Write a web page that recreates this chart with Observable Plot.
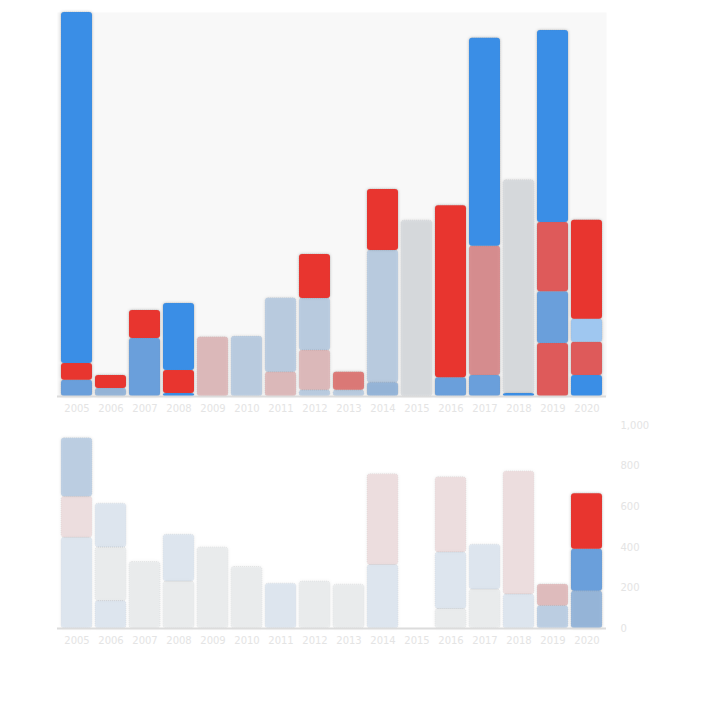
<!DOCTYPE html>
<html>
<head>
<meta charset="utf-8">
<script src="https://cdn.jsdelivr.net/npm/d3@7"></script>
<script src="https://cdn.jsdelivr.net/npm/@observablehq/plot@0.6"></script>
<style>
  html, body { margin: 0; padding: 0; background: #ffffff; }
  #chart svg { display: block; font-family: "DejaVu Sans", sans-serif; }
  #chart g[aria-label="bar"] { filter: drop-shadow(0 0 1.5px rgba(0,0,0,0.25)); }
</style>
</head>
<body>
<div id="chart"></div>
<script>
// Categories (x axis)
const categories = ["2005","2006","2007","2008","2009","2010","2011","2012",
                    "2013","2014","2015","2016","2017","2018","2019","2020"];

// Top panel: segments listed bottom-to-top within each bar
const topBar    = [1,1,1, 2,2, 3,3, 4,4,4, 5, 6, 7,7, 8,8,8,8, 9,9, 10,10,10, 11, 12,12, 13,13,13, 14,14, 15,15,15,15, 16,16,16,16];
const topSeries = ["D2","R","D", "D2","R", "D2","R", "D","R","D", "R", "D", "R","D", "D","R","D","R", "D","R", "D2","D","R", "G", "D2","R", "D2","R2","D", "D","G", "R2","D2","R2","D", "D","R2","D3","R"];
const topValue  = [42,44,914, 21,34, 151,73, 8,60,174, 154, 156, 63,193, 16,104,135,115, 16,47, 36,344,159, 458, 49,448, 55,336,542, 8,555, 138,135,180,500, 55,86,60,258];
const topState  = ["on","on","on", "dim","on", "on","on", "on","on","on", "off", "off", "off","off", "off","off","off","on", "off","dim", "dim","off","on", "off", "on","on", "on","dim","on", "on","off", "on","on","on","on", "on","on","on","on"];

// Bottom panel
const botBar    = [1,1,1, 2,2,2, 3, 4,4, 5, 6, 7, 8, 9, 10,10, 12,12,12, 13,13, 14,14, 15,15, 16,16,16];
const botSeries = ["D","R","D", "D","G","D", "G", "G","D", "G", "G", "D", "G", "G", "D","R", "G","D","R", "G","D", "D","R", "D","R", "D2","D2","R"];
const botValue  = [447,202,288, 135,264,216, 327, 231,231, 399, 303, 221, 231, 216, 313,447, 96,279,370, 192,221, 168,606, 111,106, 183,207,274];
const botState  = ["ghost","ghost","off", "ghost","ghost","ghost", "ghost", "ghost","ghost", "ghost", "ghost", "ghost", "ghost", "ghost", "ghost","ghost", "ghost","ghost","ghost", "ghost","ghost", "ghost","ghost", "off","off", "dim","on","on"];

const rightTicks = [0, 200, 400, 600, 800, 1000];

// styling (kept out of the data)
const palette = {D: "#3a8ee6", D2: "#6a9fdb", D3: "#9fc7f0", R: "#e8352f", R2: "#de5a5a", G: "#c8cfd6"};
const fade  = {on: 0, dim: 0.3, off: 0.55, ghost: 0.6};
const alpha = {on: 1, dim: 0.8, off: 0.45, ghost: 0.22};

function build(bars, series, values, states) {
  return bars.map((b, i) => ({
    cat: categories[b - 1], series: series[i], value: values[i], state: states[i]
  }));
}
const topData = build(topBar, topSeries, topValue, topState);
const botData = build(botBar, botSeries, botValue, botState);

const fillOf = d => d.state === "on" ? palette[d.series]
  : d3.interpolateRgb(palette[d.series], "#c9d0d7")(fade[d.state]);

function panel(data, opts) {
  return Plot.plot({
    width: 713,
    height: opts.height,
    marginLeft: 57,
    marginRight: 107,
    marginTop: opts.marginTop,
    marginBottom: opts.marginBottom,
    style: {color: "#e4e4e4", fontSize: "10px", background: "transparent"},
    x: {domain: categories, padding: 0.09, tickSize: 0, label: null, tickPadding: 8},
    y: {domain: [0, 1000], axis: opts.yAxis, ticks: rightTicks, tickSize: 0, label: null, tickPadding: 14},
    opacity: {type: "ordinal", domain: ["ghost", "off", "dim", "on"], range: [alpha.ghost, alpha.off, alpha.dim, alpha.on]},
    marks: [
      opts.frame ? Plot.frame({fill: "#f8f8f8", stroke: null}) : null,
      Plot.barY(data, Plot.stackY({
        x: "cat", y: "value", z: (d, i) => i,
        fill: fillOf,
        fillOpacity: "state",
        stroke: "#7a7a7a", strokeOpacity: 0.22, strokeWidth: 0.6, strokeDasharray: "1,1",
        rx: 3
      })),
      Plot.ruleY([0], {stroke: "#dcdcdc", strokeWidth: 2})
    ]
  });
}

const topPanel = panel(topData, {height: 420, marginTop: 12, marginBottom: 24, yAxis: null, frame: true});
const bottomPanel = panel(botData, {height: 293, marginTop: 5, marginBottom: 85, yAxis: "right", frame: false});

document.getElementById("chart").append(topPanel, bottomPanel);
</script>
</body>
</html>
